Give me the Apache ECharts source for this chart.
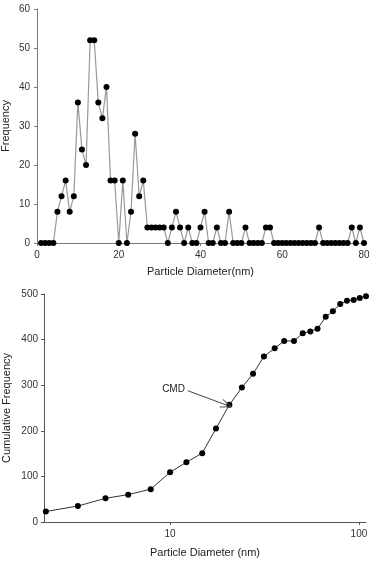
<!DOCTYPE html>
<html><head><meta charset="utf-8">
<script src="https://cdn.jsdelivr.net/npm/echarts@6/dist/echarts.min.js"></script>
<style>html,body{margin:0;padding:0;background:#fff}#c{width:374px;height:562px}</style>
</head><body><div id="c"></div>
<script>
// Top chart: particle size histogram
const diameterNm = [1,2,3,4,5,6,7,8,9,10,11,12,13,14,15,16,17,18,19,20,21,22,23,24,25,26,27,28,29,30,31,32,33,34,35,36,37,38,39,40,41,42,43,44,45,46,47,48,49,50,51,52,53,54,55,56,57,58,59,60,61,62,63,64,65,66,67,68,69,70,71,72,73,74,75,76,77,78,79,80];
const frequency = [0,0,0,0,8,12,16,8,12,36,24,20,52,52,36,32,40,16,16,0,16,0,8,28,12,16,4,4,4,4,4,0,4,8,4,0,4,0,0,4,8,0,0,4,0,0,8,0,0,0,4,0,0,0,0,4,4,0,0,0,0,0,0,0,0,0,0,0,4,0,0,0,0,0,0,0,4,0,4,0];
const topXTicks = [0,20,40,60,80];
const topYTicks = [0,10,20,30,40,50,60];
// Bottom chart: cumulative frequency (log x)
const cumDiameter = [2.2,3.25,4.55,6.0,7.9,10.0,12.2,14.8,17.5,20.6,24.0,27.5,31.4,35.8,40.2,45.3,50.4,55.3,60.4,66.7,72.8,79.6,86.4,93.8,101,109];
const cumFrequency = [23,35,52,60,72,109,131,151,205,257,295,325,363,381,397,397,414,418,424,450,462,478,485,487,491,495];
const cmdArrowStart = [12.4, 288];
const cmdArrowEnd = [20.0, 256];

const font = 'Liberation Sans, Arial, sans-serif';
const axisGray = '#7a7a7a';
const chart = echarts.init(document.getElementById('c'), null, {renderer:'canvas'});
const labelStyle = {color:'#333', fontSize:10, fontFamily:font};
const nameStyle = {color:'#222', fontSize:11, fontFamily:font};
chart.setOption({
  animation:false,
  backgroundColor:'#fff',
  grid:[
    {left:37, right:10, top:9, height:234, containLabel:false, outerBoundsMode:'none'},
    {left:44, right:8, top:294, height:228, containLabel:false, outerBoundsMode:'none'}
  ],
  xAxis:[
    {gridIndex:0, type:'value', min:topXTicks[0], max:topXTicks[topXTicks.length-1], interval:20,
     name:'Particle Diameter(nm)', nameLocation:'middle', nameGap:23, nameMoveOverlap:false, nameTextStyle:nameStyle,
     axisLine:{lineStyle:{color:axisGray}}, axisTick:{length:3, lineStyle:{color:axisGray}},
     axisLabel:Object.assign({margin:7}, labelStyle), splitLine:{show:false}},
    {gridIndex:1, type:'log', logBase:10, min:2.15, max:109,
     name:'Particle Diameter (nm)', nameLocation:'middle', nameGap:25, nameMoveOverlap:false, nameTextStyle:nameStyle,
     axisLine:{lineStyle:{color:'#555'}}, axisTick:{length:3, lineStyle:{color:'#555'}},
     axisLabel:Object.assign({margin:7, showMinLabel:false, showMaxLabel:false}, labelStyle), splitLine:{show:false}}
  ],
  yAxis:[
    {gridIndex:0, type:'value', min:topYTicks[0], max:topYTicks[topYTicks.length-1], interval:10,
     name:'Frequency', nameLocation:'middle', nameGap:26, nameMoveOverlap:false, nameTextStyle:nameStyle,
     axisLine:{show:true, lineStyle:{color:axisGray}}, axisTick:{show:true, length:3, lineStyle:{color:axisGray}},
     axisLabel:Object.assign({margin:7}, labelStyle), splitLine:{show:false}},
    {gridIndex:1, type:'value', min:0, max:500, interval:100,
     name:'Cumulative Frequency', nameLocation:'middle', nameGap:32, nameMoveOverlap:false, nameTextStyle:nameStyle,
     axisLine:{show:true, lineStyle:{color:'#555'}}, axisTick:{show:true, length:3, lineStyle:{color:'#555'}},
     axisLabel:Object.assign({margin:6}, labelStyle), splitLine:{show:false}}
  ],
  series:[
    {type:'line', xAxisIndex:0, yAxisIndex:0,
     data: diameterNm.map((d,i)=>[d, frequency[i]]),
     symbol:'circle', symbolSize:6, itemStyle:{color:'#000'},
     lineStyle:{color:'#999', width:1.2}},
    {type:'line', xAxisIndex:1, yAxisIndex:1,
     data: cumDiameter.map((d,i)=>[d, cumFrequency[i]]),
     symbol:'circle', symbolSize:6, itemStyle:{color:'#000'},
     lineStyle:{color:'#333', width:1},
     markLine:{silent:true, symbol:['none','path://M5,0 L10,12 L9,12 L5,2.5 L1,12 L0,12 Z'], symbolSize:[9,12],
       lineStyle:{color:'#444', width:1, type:'solid'},
       itemStyle:{color:'#444'},
       label:{show:true, position:'start', formatter:'CMD', color:'#222', fontSize:10, fontFamily:font, distance:3},
       data:[[{coord:cmdArrowStart},{coord:cmdArrowEnd}]]}}
  ]
});
</script></body></html>
